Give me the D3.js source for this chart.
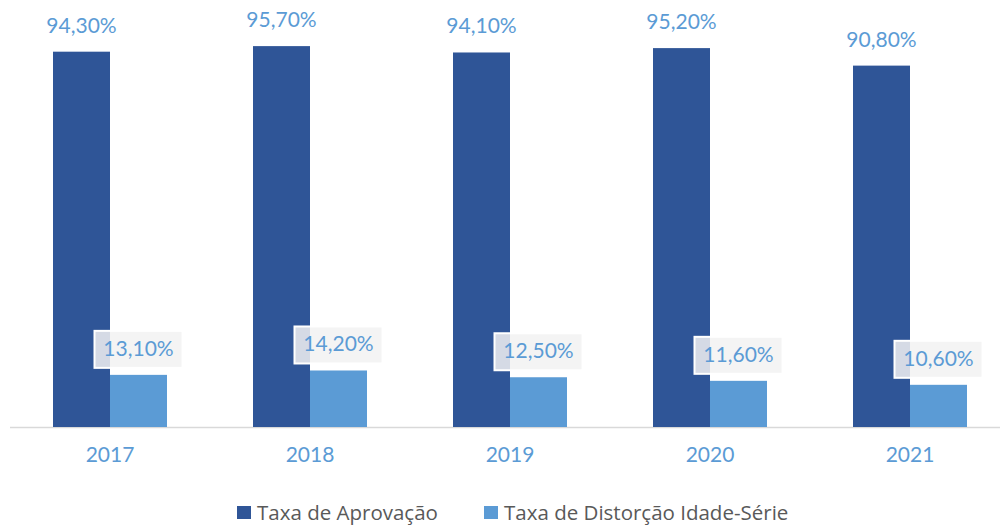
<!DOCTYPE html>
<html lang="pt">
<head>
<meta charset="utf-8">
<title>Taxa de Aprovação e Distorção Idade-Série</title>
<script src="https://cdn.jsdelivr.net/npm/d3@7"></script>
<style>
  body { margin: 0; background: #fff; }
  svg text { font-family: Lato, "Open Sans", sans-serif; }
  svg .leg text { font-family: "Open Sans", Lato, sans-serif; }
</style>
</head>
<body>
<script>
var years = ["2017", "2018", "2019", "2020", "2021"];
var aprovacao = [94.3, 95.7, 94.1, 95.2, 90.8];
var distorcao = [13.1, 14.2, 12.5, 11.6, 10.6];
var seriesNames = ["Taxa de Aprovação", "Taxa de Distorção Idade-Série"];
var colors = ["#2f5597", "#5b9bd5"];

var w = 1002, h = 527;
var baseY = 427;

var svg = d3.select("body").append("svg")
  .attr("width", w).attr("height", h);

var x = d3.scaleBand().domain(years).range([10, 1010]).paddingInner(0).paddingOuter(0);
var inner = d3.scaleBand().domain([0, 1]).range([43, 157]);
var y = d3.scaleLinear().domain([0, 100]).range([baseY, 29]);

var fmt = function(v) { return v.toFixed(2).replace(".", ",") + "%"; };

// axis line
svg.append("line")
  .attr("x1", 10).attr("x2", 1000)
  .attr("y1", baseY + 0.5).attr("y2", baseY + 0.5)
  .attr("stroke", "#d9d9d9").attr("stroke-width", 1.5);

// year labels
var xAxis = d3.axisBottom(x).tickSize(0).tickPadding(20);
var gx = svg.append("g").attr("transform", "translate(0," + baseY + ")").call(xAxis);
gx.select(".domain").remove();
gx.selectAll("text").attr("fill", "#5b9bd5").style("font-size", "21px");

// dark bars
svg.selectAll("rect.ap").data(aprovacao).enter().append("rect")
  .attr("class", "ap")
  .attr("x", function(d, i) { return x(years[i]) + inner(0); })
  .attr("y", function(d) { return y(d); })
  .attr("width", inner.bandwidth())
  .attr("height", function(d) { return baseY - y(d); })
  .attr("fill", colors[0]);

// light bars
svg.selectAll("rect.di").data(distorcao).enter().append("rect")
  .attr("class", "di")
  .attr("x", function(d, i) { return x(years[i]) + inner(1); })
  .attr("y", function(d) { return y(d); })
  .attr("width", inner.bandwidth())
  .attr("height", function(d) { return baseY - y(d); })
  .attr("fill", colors[1]);

// labels for dark bars
svg.selectAll("text.lap").data(aprovacao).enter().append("text")
  .attr("class", "lap")
  .attr("x", function(d, i) { return x(years[i]) + inner(0) + inner.bandwidth() / 2; })
  .attr("y", function(d) { return y(d) - 19; })
  .attr("text-anchor", "middle")
  .attr("fill", "#5b9bd5")
  .style("font-size", "21px")
  .text(fmt);

// boxed labels for light bars
var lg = svg.selectAll("g.ldi").data(distorcao).enter().append("g")
  .attr("class", "ldi")
  .attr("transform", function(d, i) {
    return "translate(" + (x(years[i]) + inner(1) + inner.bandwidth() / 2) + "," + (y(d) - 26) + ")";
  });
lg.append("rect")
  .attr("x", -44).attr("y", -18).attr("width", 88).attr("height", 37)
  .attr("fill", "#f2f2f2").attr("fill-opacity", 0.85)
  .attr("stroke", "#ffffff").attr("stroke-width", 2);
lg.append("text")
  .attr("y", 7)
  .attr("text-anchor", "middle")
  .attr("fill", "#5b9bd5")
  .style("font-size", "21px")
  .text(fmt);

// legend
var legendX = [237, 484];
var leg = svg.selectAll("g.leg").data(seriesNames).enter().append("g")
  .attr("class", "leg")
  .attr("transform", function(d, i) { return "translate(" + legendX[i] + ",506)"; });
leg.append("rect").attr("width", 14).attr("height", 13)
  .attr("fill", function(d, i) { return colors[i]; });
leg.append("text").attr("x", 20).attr("y", 14)
  .attr("fill", "#595959").style("font-size", "20.5px")
  .text(function(d) { return d; });
</script>
</body>
</html>
